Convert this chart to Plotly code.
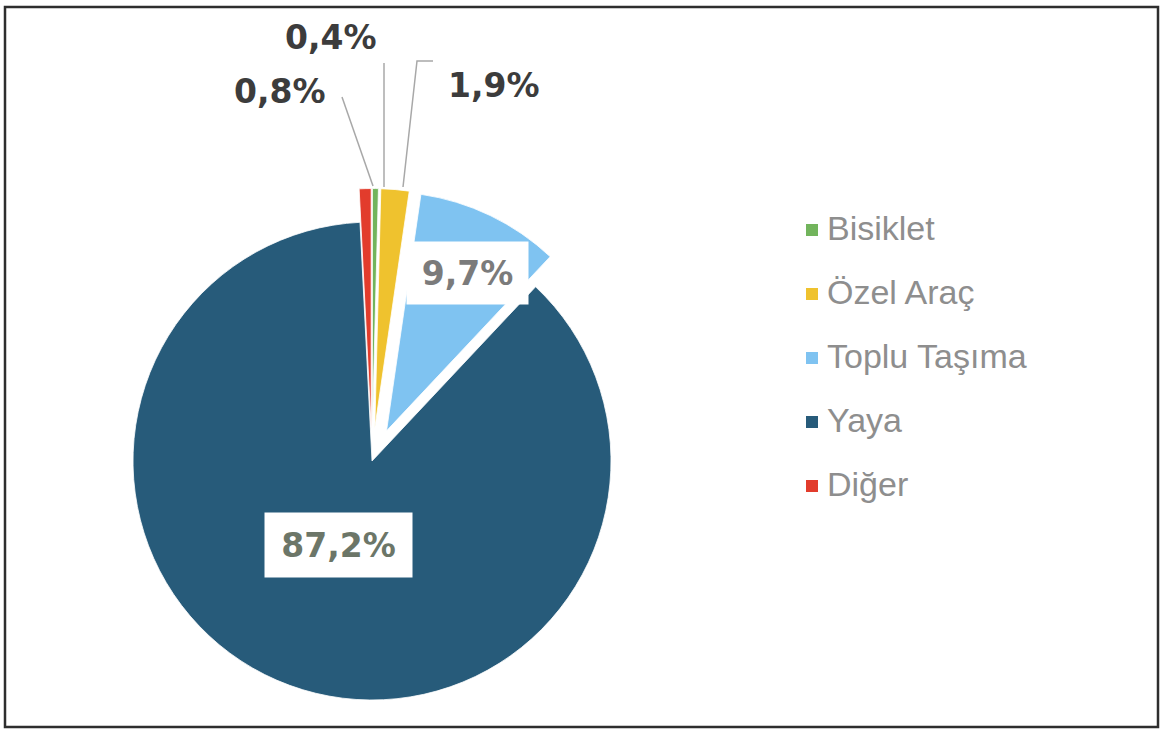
import plotly.graph_objects as go

# Modal split of trips (share, %)
labels = ["Bisiklet", "Özel Araç", "Toplu Taşıma", "Yaya", "Diğer"]
shares = [0.4, 1.9, 9.7, 87.2, 0.8]
colors = ["#72b45c", "#efc22e", "#7fc3f1", "#275b7a", "#e23c2c"]
pulls = [0.14, 0.14, 0.14, 0.0, 0.14]

W, H = 1161, 735


def px(x):
    return x / W


def py(y):
    return 1 - y / H


def pct(v):
    return f"{v:.1f}".replace(".", ",") + "%"


# pie centre and radius in pixels
cx, cy, r = 372, 461, 239
half = r * (1 + max(pulls))

fig = go.Figure(
    go.Pie(
        labels=labels,
        values=shares,
        sort=False,
        direction="clockwise",
        rotation=0,
        pull=pulls,
        marker=dict(colors=colors, line=dict(color="#ffffff", width=0.8)),
        textinfo="none",
        hoverinfo="label+percent",
        showlegend=False,
        domain=dict(x=[px(cx - half), px(cx + half)],
                    y=[max(0.0, py(cy + half)), py(cy - half)]),
    )
)

shapes = []
annotations = []

# outer frame
shapes.append(dict(type="rect", xref="paper", yref="paper",
                   x0=px(5), x1=px(1158), y0=py(727), y1=py(7),
                   line=dict(color="#2e2e2e", width=2.5)))

# leader lines for the thin slices
lead = dict(color="#a8a8a8", width=1.5)
shapes.append(dict(type="line", xref="paper", yref="paper",
                   x0=px(384), y0=py(63), x1=px(384), y1=py(187), line=lead))
shapes.append(dict(type="line", xref="paper", yref="paper",
                   x0=px(342), y0=py(97), x1=px(373), y1=py(186), line=lead))
shapes.append(dict(type="path", xref="paper", yref="paper",
                   path=f"M{px(433)},{py(61)} L{px(417)},{py(61)} L{px(403)},{py(187)}",
                   line=lead))

label_font = dict(family="DejaVu Sans", size=33)
idx = {name: i for i, name in enumerate(labels)}

# outside value labels
for name, (x, y) in {"Bisiklet": (331, 37), "Diğer": (280, 91), "Özel Araç": (494, 85)}.items():
    annotations.append(dict(xref="paper", yref="paper", x=px(x), y=py(y),
                            xanchor="center", yanchor="middle", showarrow=False,
                            text=f"<b>{pct(shares[idx[name]])}</b>",
                            font=dict(color="#3c3c3c", **label_font)))

# boxed value labels inside the larger slices
for name, (x, y), (w, h), col in [
    ("Toplu Taşıma", (467, 273), (121, 62), "#7b7b7b"),
    ("Yaya", (338, 545), (147, 64), "#6c7668"),
]:
    annotations.append(dict(xref="paper", yref="paper", x=px(x), y=py(y),
                            xanchor="center", yanchor="middle", showarrow=False,
                            width=w, height=h, bgcolor="#ffffff", borderpad=0,
                            text=f"<b>{pct(shares[idx[name]])}</b>",
                            font=dict(color=col, **label_font)))

# legend
leg_x, leg_y0, leg_dy = 812, 228, 64
for i, (name, col) in enumerate(zip(labels, colors)):
    yc = leg_y0 + i * leg_dy
    shapes.append(dict(type="rect", xref="paper", yref="paper",
                       x0=px(leg_x - 6), x1=px(leg_x + 6),
                       y0=py(yc + 8), y1=py(yc - 4),
                       fillcolor=col, line=dict(width=0)))
    annotations.append(dict(xref="paper", yref="paper", x=px(825), y=py(yc),
                            xanchor="left", yanchor="middle", showarrow=False,
                            text=name,
                            font=dict(family="Liberation Sans", size=34, color="#8e8e8e")))

fig.update_layout(
    width=W, height=H,
    margin=dict(l=0, r=0, t=0, b=0),
    paper_bgcolor="#ffffff",
    plot_bgcolor="#ffffff",
    shapes=shapes,
    annotations=annotations,
)

fig.write_html("out.html", config={"displayModeBar": False})
